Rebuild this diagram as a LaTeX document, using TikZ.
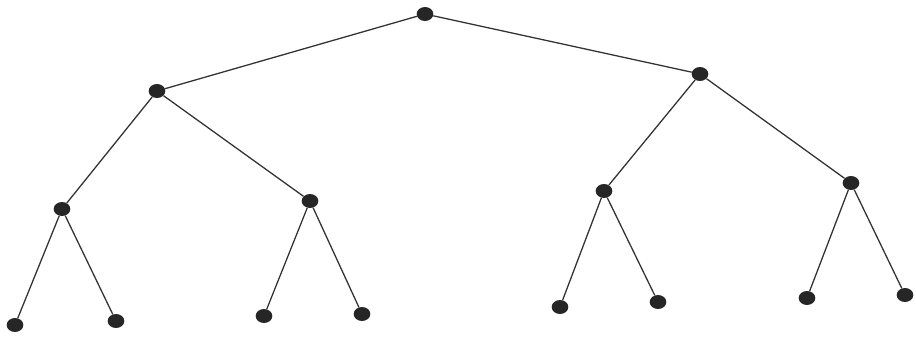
\documentclass[tikz,border=0pt]{standalone}
\usetikzlibrary{shapes.geometric}
\begin{document}
\begin{tikzpicture}[x=0.03cm,y=-0.03cm,
  vert/.style={ellipse,fill=black!85,minimum width=0.5cm,minimum height=0.42cm,inner sep=0pt},
  edge/.style={line width=1.1pt,black!80}]
  \useasboundingbox (0,0) rectangle (916,340);
  \node[vert] (r) at (425,14) {};
  \node[vert] (a) at (157,91) {};
  \node[vert] (b) at (700,74) {};
  \node[vert] (aa) at (62,209) {};
  \node[vert] (ab) at (310,201) {};
  \node[vert] (ba) at (604,191) {};
  \node[vert] (bb) at (851,183) {};
  \node[vert] (aaa) at (15,325) {};
  \node[vert] (aab) at (116,321) {};
  \node[vert] (aba) at (264,316) {};
  \node[vert] (abb) at (362,314) {};
  \node[vert] (baa) at (560,307) {};
  \node[vert] (bab) at (658,302) {};
  \node[vert] (bba) at (807,298) {};
  \node[vert] (bbb) at (905,295) {};
  \foreach \p/\c in {r/a,r/b,a/aa,a/ab,b/ba,b/bb,aa/aaa,aa/aab,ab/aba,ab/abb,ba/baa,ba/bab,bb/bba,bb/bbb}
    \draw[edge] (\p) -- (\c);
\end{tikzpicture}
\end{document}
